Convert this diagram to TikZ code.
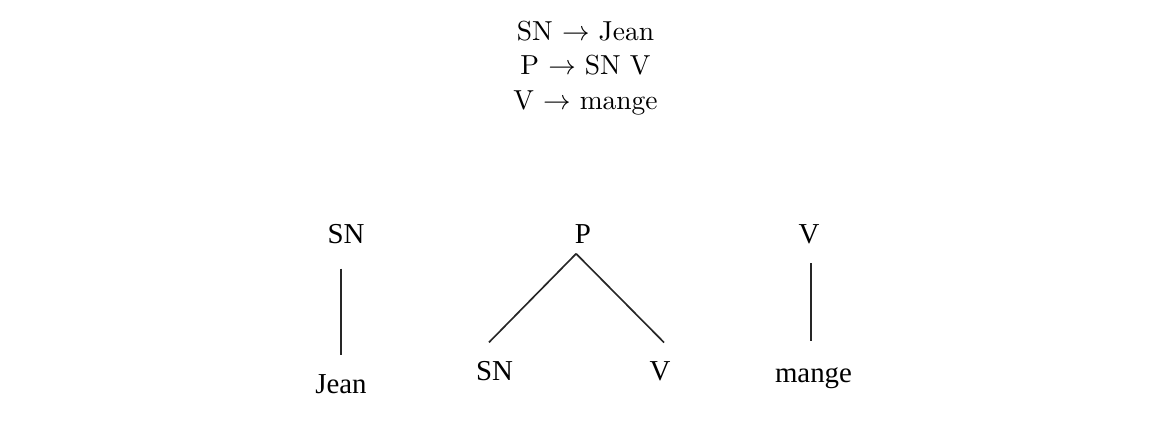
\documentclass[tikz,border=0pt]{standalone}
\usepackage{fontspec}
\usetikzlibrary{positioning}
\newfontfamily\treefont{Liberation Serif}
\tikzset{rule/.style={anchor=base,font=\normalsize},
  lbl/.style={anchor=base,font=\treefont\fontsize{10.5}{12}\selectfont},
  branch/.style={line width=0.6pt,draw=black!85}}

\begin{document}
\begin{tikzpicture}[x=0.3636pt,y=-0.3636pt]
\useasboundingbox (0,0) rectangle (1171,437);
% rules
\node[rule] (rsn) at (585.5,40) {SN $\rightarrow$ Jean};
\node[rule] (rp) at (585.5,74.5) {P $\rightarrow$ SN V};
\node[rule] (rv) at (585.5,109) {V $\rightarrow$ mange};
% trees
\node[lbl] (snA) at (346,243) {SN};
\node[lbl] (jean) at (341,393) {Jean};
\node[lbl] (pA) at (583,244) {P};
\node[lbl] (snB) at (494.5,380) {SN};
\node[lbl] (vB) at (660,380) {V};
\node[lbl] (vC) at (809,244) {V};
\node[lbl] (mange) at (813.5,382) {mange};
\draw[branch,shorten <=5.7pt,shorten >=3.5pt] (jean.north |- snA.south) -- (jean.north);
\draw[branch] ([xshift=-2.5pt]pA.south) -- ([xshift=-2pt,yshift=3.2pt]snB.north);
\draw[branch] ([xshift=-2.5pt]pA.south) -- ([xshift=1.5pt,yshift=3.2pt]vB.north);
\draw[branch,shorten <=3.3pt,shorten >=6.1pt] ([xshift=0.7pt]vC.south) -- ([xshift=0.7pt]vC.south |- mange.north);
\end{tikzpicture}
\end{document}
